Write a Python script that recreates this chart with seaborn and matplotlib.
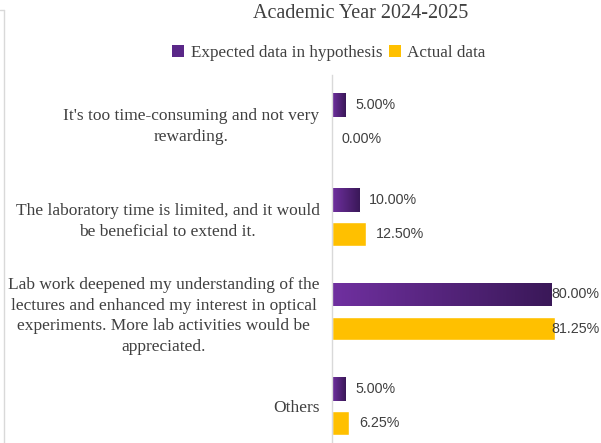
import numpy as np
import pandas as pd
import matplotlib
matplotlib.use("Agg")
import matplotlib.pyplot as plt
from matplotlib.lines import Line2D
from matplotlib.patches import Patch
import seaborn as sns

# data
categories = [
    "It's too time-consuming and not very\nrewarding.",
    "The laboratory time is limited, and it would\nbe beneficial to extend it.",
    "Lab work deepened my understanding of the\nlectures and enhanced my interest in optical\nexperiments. More lab activities would be\nappreciated.",
    "Others",
]
series = ["Expected data in hypothesis", "Actual data"]
expected = [5.00, 10.00, 80.00, 5.00]
actual = [0.00, 12.50, 81.25, 6.25]

purple_light = "#7030A0"
purple_dark = "#3A1858"
yellow = "#FFC000"
text_grey = "#404040"

df = pd.DataFrame({
    "category": categories * 2,
    "series": [series[0]] * 4 + [series[1]] * 4,
    "value": expected + actual,
})

sns.set_style("white")
plt.rcParams["font.family"] = ["Liberation Serif", "DejaVu Serif"]

fig = plt.figure(figsize=(6.01, 4.43), dpi=100)
ax = fig.add_axes([332 / 601, 0, 1 - 332 / 601, 368 / 443])

sns.barplot(data=df, y="category", x="value", hue="series", orient="h",
            palette=[purple_light, yellow], width=0.72, gap=0.3,
            legend=False, ax=ax, saturation=1)

xmax = 269 / 2.75
ax.set_xlim(0, xmax)
ax.set_ylim(3.39, -0.5)

# gradient fill on the purple bars
cmap = matplotlib.colors.LinearSegmentedColormap.from_list("pg", [purple_light, purple_dark])
grad = np.linspace(0, 1, 256).reshape(1, -1)
for cont in ax.containers[:1]:
    for p in cont.patches:
        x0, y0 = p.get_x(), p.get_y()
        w, h = p.get_width(), p.get_height()
        if w <= 0:
            continue
        im = ax.imshow(grad, cmap=cmap, aspect="auto",
                       extent=[x0, x0 + w, y0 + h, y0], zorder=p.get_zorder() + 0.1)
        im.set_clip_path(p)

# value labels (long bars: label pushed back inside the plot edge)
for cont in ax.containers:
    for p in cont.patches:
        v = p.get_width()
        yc = p.get_y() + p.get_height() / 2
        kw = dict(va="center", fontsize=10.3, color=text_grey,
                  family=["Liberation Sans", "DejaVu Sans"])
        if v > 70:
            ax.annotate(f"{v:.2f}%", (xmax, yc), xytext=(-1, 0),
                        textcoords="offset points", ha="right", **kw)
        else:
            ax.annotate(f"{v:.2f}%", (v, yc), xytext=(7, 0),
                        textcoords="offset points", ha="left", **kw)

ax.set_xlabel("")
ax.set_ylabel("")
ax.set_xticks([])
ax.tick_params(axis="y", length=0, pad=9)
for lab in ax.get_yticklabels():
    lab.set_multialignment("center")
    lab.set_fontsize(12.5)
    lab.set_linespacing(1.4)
    lab.set_color(text_grey)
for s in ["top", "right", "bottom"]:
    ax.spines[s].set_visible(False)
ax.spines["left"].set_color("#D9D9D9")
ax.spines["left"].set_linewidth(1)

fig.text(361 / 601, 1 - 13 / 443, "Academic Year 2024-2025", ha="center", va="center",
         fontsize=14.5, color=text_grey)

handles = [Patch(facecolor="#5A2788", edgecolor="none"),
           Patch(facecolor=yellow, edgecolor="none")]
fig.legend(handles, series, loc="center", bbox_to_anchor=(329 / 601, 1 - 53 / 443),
           ncol=2, frameon=False, fontsize=12.3, handlelength=0.7, handleheight=0.7,
           handletextpad=0.4, columnspacing=0.35, labelcolor=text_grey,
           borderpad=0, borderaxespad=0)

# outer chart border, mostly cropped away
fig.add_artist(Line2D([4 / 601, 4 / 601], [0, 1 - 10 / 443], color="#D9D9D9", lw=1))
fig.add_artist(Line2D([0, 4 / 601], [1 - 10 / 443, 1 - 10 / 443], color="#D9D9D9", lw=1))

fig.savefig("out.png", dpi=100)
